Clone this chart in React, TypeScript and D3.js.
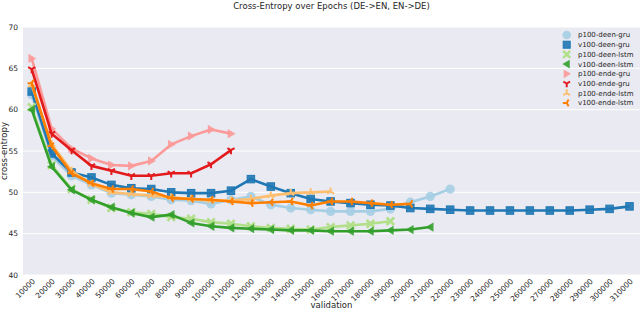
import React, { useEffect, useRef } from 'react';
import * as d3 from 'd3';

const width = 640;
const height = 312;

// validation steps shown on the x axis
const steps = d3.range(10000, 320000, 10000);

const seriesNames = [
  'p100-deen-gru', 'v100-deen-gru', 'p100-deen-lstm', 'v100-deen-lstm',
  'p100-ende-gru', 'v100-ende-gru', 'p100-ende-lstm', 'v100-ende-lstm',
];

const p100DeenGru = [61.8, 54.4, 52.0, 50.9, 49.9, 49.7, 49.5, 49.1, 49.0, 48.6, 49.1, 49.5, 48.5, 48.1, 47.9, 47.7, 47.7, 47.7, 48.0, 48.8, 49.5, 50.4];
const v100DeenGru = [62.2, 54.7, 52.4, 51.8, 50.9, 50.5, 50.4, 50.0, 49.9, 49.9, 50.2, 51.6, 50.7, 49.9, 49.2, 48.9, 48.7, 48.5, 48.4, 48.1, 48.0, 47.9, 47.8, 47.8, 47.8, 47.8, 47.8, 47.8, 47.9, 48.0, 48.3];
const p100DeenLstm = [60.3, 53.3, 50.4, 49.1, 48.1, 47.6, 47.4, 47.0, 46.8, 46.4, 46.2, 45.9, 45.7, 45.6, 45.5, 45.8, 46.0, 46.2, 46.5];
const v100DeenLstm = [60.0, 53.1, 50.3, 49.1, 48.2, 47.5, 47.0, 47.3, 46.3, 45.9, 45.7, 45.6, 45.5, 45.4, 45.4, 45.3, 45.3, 45.3, 45.4, 45.5, 45.8];
const p100EndeGru = [66.2, 57.7, 55.3, 54.1, 53.3, 53.2, 53.8, 55.8, 56.8, 57.6, 57.1];
const v100EndeGru = [64.9, 57.1, 55.1, 53.2, 52.6, 52.0, 52.0, 52.3, 52.3, 53.4, 55.1];
const p100EndeLstm = [63.0, 55.8, 52.6, 51.0, 50.0, 49.8, 49.6, 49.4, 49.2, 49.0, 49.0, 49.2, 49.6, 49.9, 50.0, 50.1];
const v100EndeLstm = [63.2, 55.6, 52.3, 51.1, 50.4, 50.4, 50.1, 49.3, 49.2, 49.1, 48.9, 48.7, 48.8, 48.9, 48.4, 48.9, 48.9, 48.7, 48.5, 48.6];

const seriesValues = [p100DeenGru, v100DeenGru, p100DeenLstm, v100DeenLstm, p100EndeGru, v100EndeGru, p100EndeLstm, v100EndeLstm];
const colors = ['#a6cee3', '#1f78b4', '#b2df8a', '#33a02c', '#fb9a99', '#e31a1c', '#fdbf6f', '#ff7f00'];
const markers = ['circle', 'square', 'x', 'tleft', 'tright', 'tri_down', 'tri_up', 'tri_left'];
const yTicks = [40, 45, 50, 55, 60, 65, 70];

const font = '"DejaVu Sans", sans-serif';
const textColor = '#262626';

// draws one marker of the given kind centred at 0,0 inside g
function drawMarker(g: any, kind: string, color: string, s: number) {
  if (kind === 'circle') {
    g.append('circle').attr('r', s * 0.62).attr('fill', color).attr('fill-opacity', 0.9)
  } else if (kind === 'square') {
    g.append('rect').attr('x', -s / 2).attr('y', -s / 2).attr('width', s).attr('height', s)
      .attr('fill', color).attr('fill-opacity', 0.9).attr('stroke', color).attr('stroke-width', 1)
  } else if (kind === 'x') {
    const r = s * 0.5
    g.append('path').attr('d', `M${-r},${-r}L${r},${r}M${-r},${r}L${r},${-r}`)
      .attr('stroke', color).attr('stroke-width', 2.6).attr('fill', 'none')
  } else if (kind === 'tleft' || kind === 'tright') {
    const r = s * 0.62
    const dir = kind === 'tleft' ? -1 : 1
    g.append('path').attr('d', `M${dir * r},0L${-dir * r * 0.7},${-r}L${-dir * r * 0.7},${r}Z`)
      .attr('fill', color).attr('fill-opacity', 0.9)
  } else {
    // matplotlib style three-spoke markers
    const r = s * 0.55
    const base = kind === 'tri_down' ? 90 : kind === 'tri_up' ? -90 : 180
    const d = [0, 120, 240].map((a) => {
      const t = (base + a) * Math.PI / 180
      return `M0,0L${r * Math.cos(t)},${r * Math.sin(t)}`
    }).join('')
    g.append('path').attr('d', d).attr('stroke', color).attr('stroke-width', 2).attr('fill', 'none')
  }
}

function Chart() {
  const ref = useRef<SVGSVGElement>(null)

  useEffect(() => {
    const svg = d3.select(ref.current)
    svg.selectAll('*').remove()

    const plot = { left: 23, right: 640, top: 27, bottom: 275 }

    const x = d3.scalePoint<number>()
      .domain(steps)
      .range([31.7, 629.5])

    const y = d3.scaleLinear()
      .domain([40, 70])
      .range([plot.bottom, plot.top])

    // background
    svg.append('rect')
      .attr('x', plot.left).attr('y', plot.top)
      .attr('width', plot.right - plot.left).attr('height', plot.bottom - plot.top)
      .attr('fill', '#eaeaf2')

    // horizontal grid
    svg.append('g').selectAll('line')
      .data(yTicks)
      .enter().append('line')
      .attr('x1', plot.left).attr('x2', plot.right)
      .attr('y1', (d) => y(d)).attr('y2', (d) => y(d))
      .attr('stroke', '#ffffff').attr('stroke-width', 1)

    // y tick labels
    svg.append('g').selectAll('text')
      .data(yTicks)
      .enter().append('text')
      .attr('x', 18).attr('y', (d) => y(d))
      .attr('dy', '0.35em')
      .attr('text-anchor', 'end')
      .style('font', '7.5px ' + font)
      .attr('fill', textColor)
      .text((d) => d)

    // x tick labels, rotated
    svg.append('g').selectAll('text')
      .data(steps)
      .enter().append('text')
      .attr('transform', (d) => `translate(${x(d)! + 2},${plot.bottom + 5}) rotate(-45)`)
      .attr('text-anchor', 'end')
      .attr('dy', '0.35em')
      .style('font', '7.5px ' + font)
      .attr('fill', textColor)
      .text((d) => d)

    // axis titles
    svg.append('text')
      .attr('x', (plot.left + plot.right) / 2).attr('y', 308)
      .attr('text-anchor', 'middle')
      .style('font', '8.5px ' + font)
      .attr('fill', textColor)
      .text('validation')

    svg.append('text')
      .attr('transform', `translate(7,${(plot.top + plot.bottom) / 2}) rotate(-90)`)
      .attr('text-anchor', 'middle')
      .style('font', '8.5px ' + font)
      .attr('fill', textColor)
      .text('cross-entropy')

    svg.append('text')
      .attr('x', (plot.left + plot.right) / 2).attr('y', 9)
      .attr('text-anchor', 'middle')
      .style('font', '8.5px ' + font)
      .attr('fill', textColor)
      .text('Cross-Entropy over Epochs (DE->EN, EN->DE)')

    // series
    const line = d3.line<number>()
      .x((d, i) => x(steps[i])!)
      .y((d) => y(d))

    seriesValues.forEach((vals, si) => {
      const g = svg.append('g')
      g.append('path')
        .datum(vals)
        .attr('d', line)
        .attr('fill', 'none')
        .attr('stroke', colors[si])
        .attr('stroke-width', 2.6)
        .attr('stroke-linejoin', 'round')
      vals.forEach((v, i) => {
        const m = g.append('g').attr('transform', `translate(${x(steps[i])},${y(v)})`)
        drawMarker(m, markers[si], colors[si], 7.5)
      })
    })

    // legend
    const legend = svg.append('g')
    seriesNames.forEach((name, i) => {
      const ly = 35 + i * 9.7
      const m = legend.append('g').attr('transform', `translate(566.7,${ly})`)
      drawMarker(m, markers[i], colors[i], 7)
      legend.append('text')
        .attr('x', 578).attr('y', ly)
        .attr('dy', '0.35em')
        .style('font', '7px ' + font)
        .attr('fill', textColor)
        .text(name)
    })
  }, [])

  return <svg ref={ref} width={width} height={height} style={{ display: 'block' }} />
}

export default function App() {
  return (
    <div style={{ position: 'absolute', left: 0, top: 0 }}>
      <Chart />
    </div>
  );
}
